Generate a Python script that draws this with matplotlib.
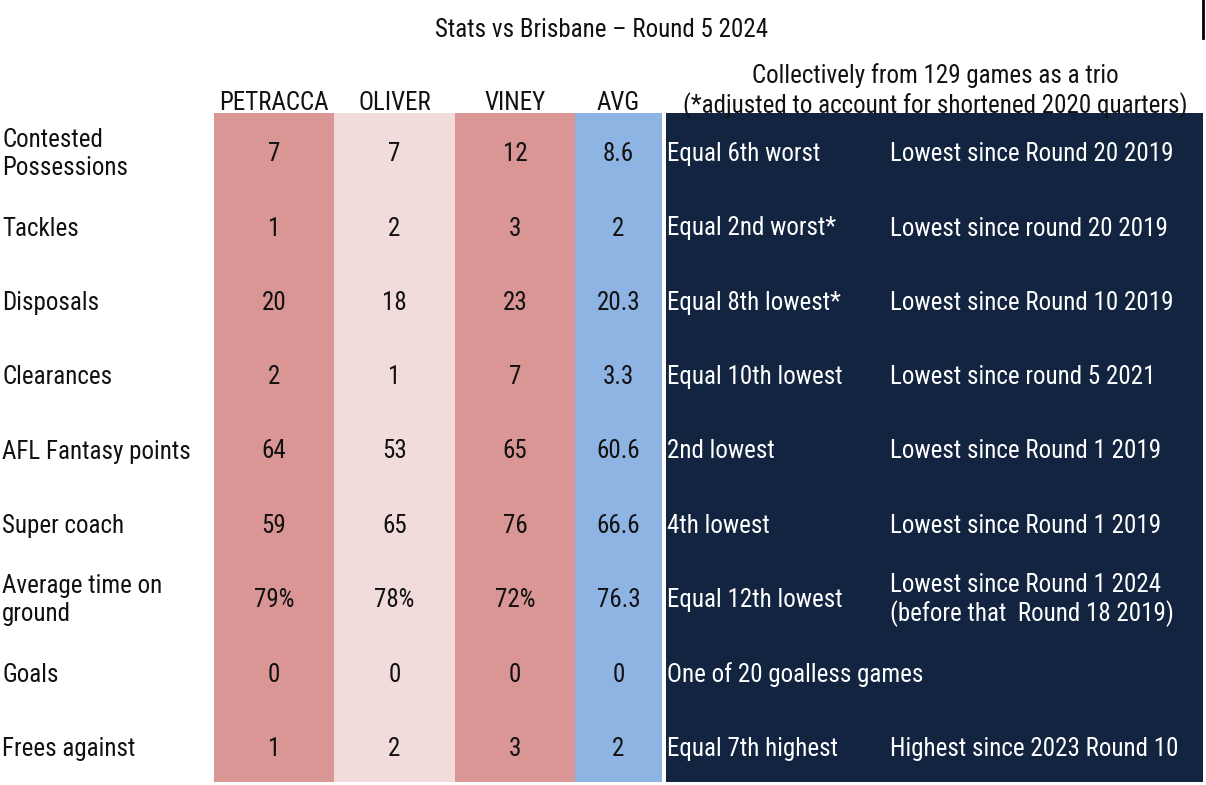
import matplotlib
matplotlib.use("Agg")
import matplotlib.pyplot as plt
from matplotlib import font_manager as fm

# pick a narrow font if one is around
names = {f.name for f in fm.fontManager.ttflist}
font = "DejaVu Sans"
for cand in ["Liberation Sans Narrow", "Roboto Condensed", "Open Sans Condensed", "Roboto"]:
    if cand in names:
        font = cand
        break
plt.rcParams['font.family'] = [font, 'DejaVu Sans']

title = "Stats vs Brisbane \u2013 Round 5 2024"
players = ["PETRACCA", "OLIVER", "VINEY", "AVG"]
stats = ["Contested\nPossessions", "Tackles", "Disposals", "Clearances",
         "AFL Fantasy points", "Super coach", "Average time on\nground",
         "Goals", "Frees against"]
petracca = ["7", "1", "20", "2", "64", "59", "79%", "0", "1"]
oliver = ["7", "2", "18", "1", "53", "65", "78%", "0", "2"]
viney = ["12", "3", "23", "7", "65", "76", "72%", "0", "3"]
avg = ["8.6", "2", "20.3", "3.3", "60.6", "66.6", "76.3", "0", "2"]
rank_note = ["Equal 6th worst", "Equal 2nd worst*", "Equal 8th lowest*",
             "Equal 10th lowest", "2nd lowest", "4th lowest",
             "Equal 12th lowest", "One of 20 goalless games", "Equal 7th highest"]
since_note = ["Lowest since Round 20 2019", "Lowest since round 20 2019",
              "Lowest since Round 10 2019", "Lowest since round 5 2021",
              "Lowest since Round 1 2019", "Lowest since Round 1 2019",
              "Lowest since Round 1 2024\n(before that  Round 18 2019)", "",
              "Highest since 2023 Round 10"]
collective_header = "Collectively from 129 games as a trio\n(*adjusted to account for shortened 2020 quarters)"

W, H = 1206, 785
fig = plt.figure(figsize=(W / 100, H / 100), dpi=100)
ax = fig.add_axes([0, 0, 1, 1])
ax.set_xlim(0, W)
ax.set_ylim(H, 0)
ax.axis("off")

top, bottom = 113, 782
n = len(stats)
rh = (bottom - top) / n
centers = [top + rh * (i + 0.5) for i in range(n)]

# column geometry (left, right, colour)
cols = [(214, 334, "#d99694"), (334, 455, "#f2dcdb"), (455, 575, "#d99694"),
        (575, 662, "#8eb4e3")]
navy = "#12243f"
values = [petracca, oliver, viney, avg]
fs = 18
dy = 4  # nudge text down a touch
kw = dict(fontsize=fs, va="center", color="#111111")

for (l, r, c), name, vals in zip(cols, players, values):
    ax.bar((l + r) / 2, bottom - top, width=r - l, bottom=top, color=c,
           linewidth=0)
    ax.text((l + r) / 2, 101 + 2, name, ha="center", **kw)
    for y, v in zip(centers, vals):
        ax.text((l + r) / 2, y + dy, v, ha="center", **kw)

ax.bar((666 + 1203) / 2, bottom - top, width=1203 - 666, bottom=top,
       color=navy, linewidth=0)

wkw = dict(kw, color="white")
for y, s, a, b in zip(centers, stats, rank_note, since_note):
    ax.text(2, y + dy, s, ha="left", linespacing=1.18, **kw)
    ax.text(667, y + dy, a, ha="left", **wkw)
    ax.text(890, y + dy, b, ha="left", linespacing=1.18, **wkw)

ax.text(602, 27 + 3, title, ha="center", **kw)
ax.text(935, 88 + 3, collective_header, ha="center", linespacing=1.18, **kw)
ax.plot([1203, 1203], [0, 38], color="black", linewidth=2)

fig.savefig("out.png", dpi=100)
